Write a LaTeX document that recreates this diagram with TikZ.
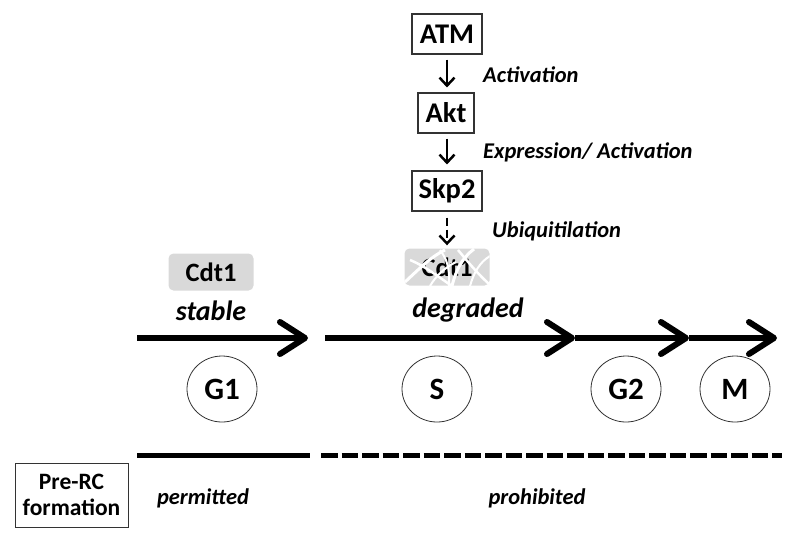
\documentclass[tikz,border=0pt]{standalone}
\usepackage{fontspec}
\setmainfont{Carlito}
\usetikzlibrary{arrows.meta, positioning, shapes.geometric}

\begin{document}
\begin{tikzpicture}[
		x=1pt, y=-1pt,
		protein/.style={
			draw=black!80,
			line width=1.1pt,
			inner sep=0pt,
			minimum height=40pt,
			font=\fontsize{28.5}{30}\selectfont\bfseries
		},
		note/.style={
			anchor=west,
			inner sep=0pt,
			font=\fontsize{22.5}{26}\selectfont\bfseries\itshape
		},
		cdtbox/.style={
			fill=black!15,
			rounded corners=5pt,
			inner sep=0pt,
			minimum width=85pt,
			minimum height=37pt,
			font=\fontsize{26.5}{30}\selectfont\bfseries
		},
		status/.style={font=\fontsize{28}{32}\selectfont\bfseries\itshape},
		phase/.style={
			ellipse,
			draw=black!80,
			line width=0.8pt,
			inner sep=0pt,
			minimum width=70pt,
			minimum height=66pt,
			font=\fontsize{31}{34}\selectfont\bfseries
		},
		signal/.style={-{Straight Barb[length=8pt,width=15pt]}, line width=2.5pt},
		phasearrow/.style={-{Straight Barb[length=25pt,width=32pt,round]}, line width=6pt},
		license/.style={line width=5pt}
		]
		
		\useasboundingbox (0,0) rectangle (799,544);
		
		% Signalling cascade
		\node[protein, minimum width=70pt] at (447,34) (atm) {ATM};
		\node[protein, minimum width=56pt] at (446,113) (akt) {Akt};
		\node[protein, minimum width=70pt] at (447,191) (skp) {Skp2};
		
		\node[note] at (483,75) (activation) {Activation};
		\node[note] at (483,152) (expression) {Expression/ Activation};
		\node[note] at (492,231) (ubiq) {Ubiquitilation};
		
		% Cdt1 states
		\node[cdtbox] at (211,272) (cdt) {Cdt1};
		\node[status] at (211,311) (stable) {stable};
		\node[cdtbox] at (447,267) (cdtdeg) {Cdt1};
		\begin{scope}
			\clip (cdtdeg.south west) rectangle (cdtdeg.north east);
			\draw[white, line width=3pt] (405,282) .. controls (420,268) and (432,256) .. (445,250);
			\draw[white, line width=2.5pt] (410,260) .. controls (425,266) and (440,278) .. (452,286);
			\draw[white, line width=3pt] (452,286) .. controls (456,270) and (462,258) .. (474,249);
			\draw[white, line width=2.5pt] (458,250) .. controls (468,262) and (478,274) .. (489,284);
			\draw[white, line width=2pt] (470,286) .. controls (474,272) and (480,262) .. (490,256);
			\draw[white, line width=2pt] (430,286) .. controls (436,276) and (444,268) .. (456,262);
			\draw[white, line width=2pt] (440,250) .. controls (446,258) and (450,266) .. (449,286);
		\end{scope}
		\node[status] at (468,310) (degraded) {degraded};
		
		\draw[signal] ([yshift=-5pt]atm.south) -- ([yshift=5pt]atm.south |- akt.north);
		\draw[signal] ([yshift=-5pt]atm.south |- akt.south) -- ([yshift=6pt]skp.north);
		\draw[signal, dash pattern=on 8pt off 4pt] ([yshift=-6pt]skp.south) -- ([yshift=3pt]cdtdeg.north);
		
		% Cell cycle
		\coordinate (c0) at (137,338);
		\coordinate (c1) at (308,338);
		\coordinate (c2) at (325,338);
		\coordinate (c3) at (575,338);
		\coordinate (c4) at (689,338);
		\coordinate (c5) at (777,338);
		\draw[phasearrow] (c0) -- (c1);
		\draw[phasearrow] (c2) -- (c3);
		\draw[phasearrow] (c3) -- (c4);
		\draw[phasearrow] (c4) -- (c5);
		
		\node[phase] at (222,389) (g1) {G1};
		\node[phase] at (437,389) (s) {S};
		\node[phase] at (626,389) (g2) {G2};
		\node[phase] at (735,389) (m) {M};
		
		% Pre-RC formation
		\coordinate (l0) at (137,455);
		\coordinate (l1) at (310,455);
		\coordinate (l2) at (321,455);
		\coordinate (l3) at (782,455);
		\draw[license] (l0) -- (l1);
		\draw[license, dash pattern=on 16.5pt off 4pt] (l2) -- (l3);
		
		\node[draw=black!80, line width=0.9pt, minimum width=113pt, minimum height=64pt, inner sep=0pt, align=center, font=\fontsize{23.5}{26}\selectfont\bfseries] at (71.5,495) (prerc) {Pre-RC\\formation};
		\node[font=\fontsize{22.5}{26}\selectfont\bfseries\itshape] at (203,498) (permitted) {permitted};
		\node[font=\fontsize{22.5}{26}\selectfont\bfseries\itshape] at (537,498) (prohibited) {prohibited};
		
	\end{tikzpicture}
\end{document}
